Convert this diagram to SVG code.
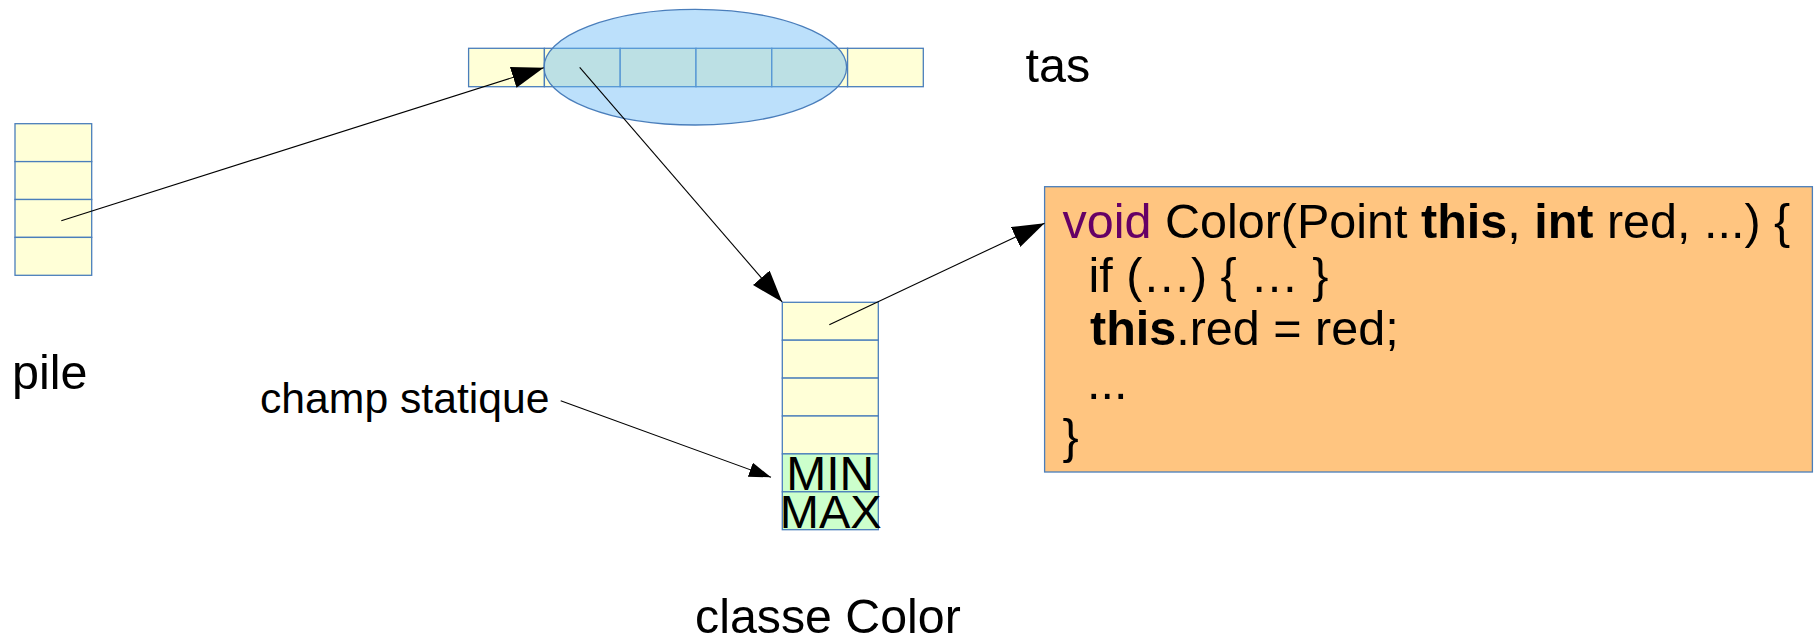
<svg xmlns="http://www.w3.org/2000/svg" width="1818" height="638" viewBox="0 0 1818 638">
  <style>
    .cell { fill: #ffffd7; stroke: #4a7ebb; stroke-width: 1.3; }
    .static { fill: #ccffcc; stroke: #4a7ebb; stroke-width: 1.3; }
    .heap-zone { fill: rgb(100,182,246); fill-opacity: 0.43; stroke: #4a7ebb; stroke-width: 1.3; }
    .code-box { fill: #ffc580; stroke: #4a7ebb; stroke-width: 1.3; }
    .label { font-family: "Liberation Sans", Arial, sans-serif; fill: #000; }
    .code { font-family: "Liberation Sans", Arial, sans-serif; font-size: 48.5px; fill: #000; }
    .kw { fill: #660066; }
    .b { font-weight: bold; }
    .link { stroke: #000; stroke-width: 1.1; fill: none; }
  </style>
  <defs>
    <marker id="head" markerUnits="userSpaceOnUse" viewBox="0 0 32 22" markerWidth="32" markerHeight="22" refX="32" refY="11" orient="auto">
      <path d="M0,0 L32,11 L0,22 z" fill="#000"/>
    </marker>
    <marker id="head-small" markerUnits="userSpaceOnUse" viewBox="0 0 22 15" markerWidth="22" markerHeight="15" refX="22" refY="7.5" orient="auto">
      <path d="M0,0 L22,7.5 L0,15 z" fill="#000"/>
    </marker>
  </defs>

  <!-- stack frame -->
  <g id="pile">
    <rect class="cell" x="15" y="123.7" width="76.7" height="37.9"/>
    <rect class="cell" x="15" y="161.6" width="76.7" height="37.9"/>
    <rect class="cell" x="15" y="199.5" width="76.7" height="37.9"/>
    <rect class="cell" x="15" y="237.4" width="76.7" height="37.9"/>
    <text class="label" x="12" y="389.3" font-size="48.5">pile</text>
  </g>

  <!-- heap strip with the highlighted object -->
  <g id="tas">
    <rect class="cell" x="468.6" y="48.3" width="75.8" height="38.4"/>
    <rect class="cell" x="544.4" y="48.3" width="75.8" height="38.4"/>
    <rect class="cell" x="620.2" y="48.3" width="75.8" height="38.4"/>
    <rect class="cell" x="696" y="48.3" width="75.8" height="38.4"/>
    <rect class="cell" x="771.8" y="48.3" width="75.8" height="38.4"/>
    <rect class="cell" x="847.6" y="48.3" width="75.7" height="38.4"/>
    <ellipse class="heap-zone" cx="695.3" cy="67.2" rx="151.3" ry="57.8"/>
    <text class="label" x="1025.5" y="82" font-size="48.5">tas</text>
  </g>

  <!-- class Color with its static fields -->
  <g id="classe-color">
    <rect class="cell" x="782.3" y="302.3" width="96" height="37.9"/>
    <rect class="cell" x="782.3" y="340.2" width="96" height="37.9"/>
    <rect class="cell" x="782.3" y="378.1" width="96" height="37.9"/>
    <rect class="cell" x="782.3" y="416" width="96" height="37.9"/>
    <rect class="static" x="782.3" y="453.9" width="96" height="37.9"/>
    <rect class="static" x="782.3" y="491.8" width="96" height="37.9"/>
    <text class="label" x="830.3" y="490" font-size="48" text-anchor="middle">MIN</text>
    <text class="label" x="830.8" y="528" font-size="47" text-anchor="middle">MAX</text>
    <text class="label" x="695" y="633" font-size="48.3">classe Color</text>
  </g>

  <g id="champ-statique">
    <text class="label" x="260" y="412.7" font-size="42.7">champ statique</text>
  </g>

  <!-- constructor code -->
  <g id="constructeur">
    <rect class="code-box" x="1044.6" y="186.7" width="767.8" height="285.3"/>
    <text class="code" x="1062.5" y="238.3"><tspan class="kw">void</tspan> Color(Point <tspan class="b">this</tspan>, <tspan class="b">int</tspan> red, ...) {</text>
    <text class="code" x="1088.5" y="291.8">if (…) { … }</text>
    <text class="code" x="1090" y="345.3"><tspan class="b">this</tspan>.red = red;</text>
    <text class="code" x="1087" y="399">...</text>
    <text class="code" x="1062.5" y="452.5">}</text>
  </g>

  <!-- references -->
  <g id="connecteurs">
    <line class="link" x1="61.3" y1="220.7" x2="543.7" y2="67.7" marker-end="url(#head)"/>
    <line class="link" x1="579.7" y1="67.3" x2="782.2" y2="302" marker-end="url(#head)"/>
    <line class="link" x1="560.7" y1="400.7" x2="771" y2="477.3" marker-end="url(#head-small)"/>
    <line class="link" x1="829.3" y1="324.7" x2="1044.5" y2="223.3" marker-end="url(#head)"/>
  </g>
</svg>
